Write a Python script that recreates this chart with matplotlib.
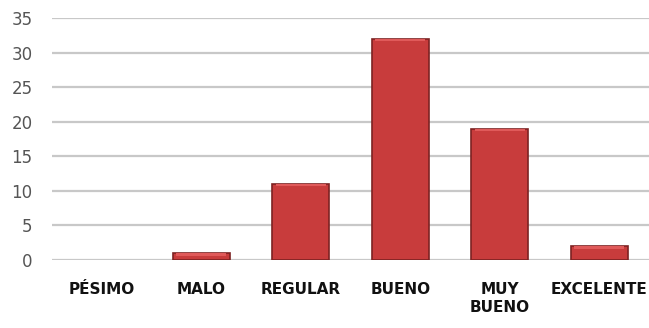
import matplotlib
matplotlib.use("Agg")
import matplotlib.pyplot as plt

categories = ["PÉSIMO", "MALO", "REGULAR", "BUENO", "MUY\nBUENO", "EXCELENTE"]
values = [0, 1, 11, 32, 19, 2]
yticks = [0, 5, 10, 15, 20, 25, 30, 35]

fig = plt.figure(figsize=(6.49, 3.28), dpi=100)
ax = fig.add_axes([52/649, 68/328, 597/649, 242/328])

x = list(range(len(categories)))
lws = [1.2 if v > 0 else 0 for v in values]
ax.bar(x, values, width=0.57, color="#c83c3c", edgecolor="#7d2222", linewidth=lws, zorder=3)
# lighter highlight on bar tops
ax.bar(x, [0.35 if v > 0 else 0 for v in values], bottom=[max(v - 0.35, 0) for v in values],
       width=0.5, color="#e05a5a", linewidth=0, zorder=4)

ax.set_xlim(-0.5, 5.5)
ax.set_ylim(0, 35)
ax.set_yticks(yticks)
ax.set_xticks(x)
ax.set_xticklabels(categories, fontsize=11, fontweight="bold", color="#111111", linespacing=1.2)
ax.tick_params(axis="y", labelsize=12, colors="#555555", length=0, pad=14)
ax.tick_params(axis="x", length=0, pad=16)
ax.grid(axis="y", color="#c8c8c8", linewidth=1.6, zorder=0)
ax.set_axisbelow(True)
for s in ax.spines.values():
    s.set_visible(False)

fig.savefig("out.png", dpi=100)
